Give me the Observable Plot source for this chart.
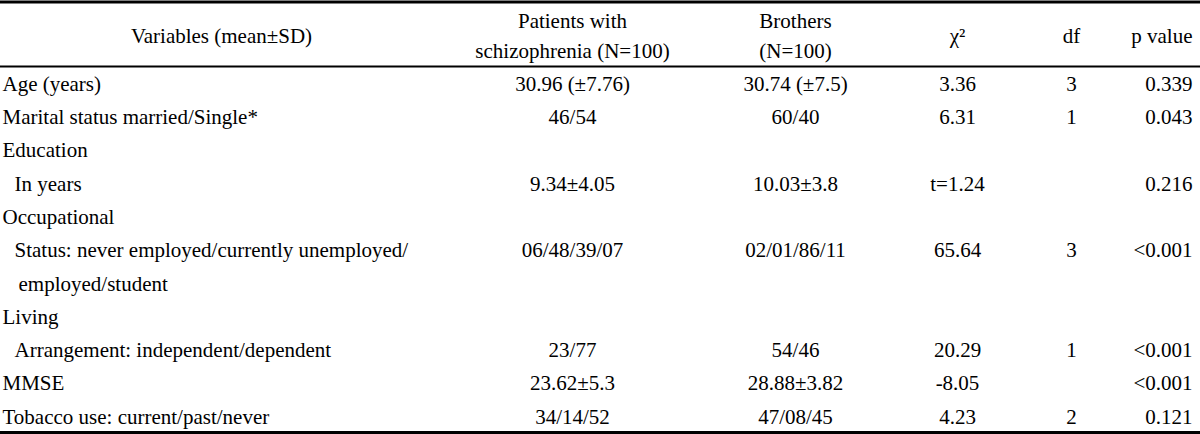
<!DOCTYPE html>
<html>
<head>
<meta charset="utf-8">
<script src="https://cdn.jsdelivr.net/npm/d3@7"></script>
<script src="https://cdn.jsdelivr.net/npm/@observablehq/plot@0.6"></script>
<style>
  html, body { margin: 0; padding: 0; background: #fff; }
  #chart svg { display: block; }
</style>
</head>
<body>
<div id="chart"></div>
<script>
// ---- data ----
const headers = [
  "Variables (mean\u00B1SD)",
  "Patients with\nschizophrenia (N=100)",
  "Brothers\n(N=100)",
  "\u03C7\u00B2",
  "df",
  "p value"
];
const variables = [
  "Age (years)",
  "Marital status married/Single*",
  "Education",
  "In years",
  "Occupational",
  "Status: never employed/currently unemployed/",
  "employed/student",
  "Living",
  "Arrangement: independent/dependent",
  "MMSE",
  "Tobacco use: current/past/never"
];
const indentLevel = [0, 0, 0, 1, 0, 1, 2, 0, 1, 0, 0];
const patients = ["30.96 (\u00B17.76)", "46/54", "", "9.34\u00B14.05", "", "06/48/39/07", "", "", "23/77", "23.62\u00B15.3", "34/14/52"];
const brothers = ["30.74 (\u00B17.5)", "60/40", "", "10.03\u00B13.8", "", "02/01/86/11", "", "", "54/46", "28.88\u00B13.82", "47/08/45"];
const chi2 = ["3.36", "6.31", "", "t=1.24", "", "65.64", "", "", "20.29", "-8.05", "4.23"];
const dfs = ["3", "1", "", "", "", "3", "", "", "1", "", "2"];
const pValues = ["0.339", "0.043", "", "0.216", "", "<0.001", "", "", "<0.001", "<0.001", "0.121"];

// ---- layout (table geometry in chart units) ----
const W = 1200, H = 434;
const headerBottom = 66, tableBottom = 432, rowPitch = (tableBottom - headerBottom) / variables.length;
const indentX = [2, 14, 18];
const columns = [
  {values: null,     x: 2,    anchor: "start",  headerX: 221, headerAnchor: "middle"},
  {values: patients, x: 572,  anchor: "middle", headerX: 572, headerAnchor: "middle"},
  {values: brothers, x: 795,  anchor: "middle", headerX: 795, headerAnchor: "middle"},
  {values: chi2,     x: 957,  anchor: "middle", headerX: 957, headerAnchor: "middle"},
  {values: dfs,      x: 1071, anchor: "middle", headerX: 1071, headerAnchor: "middle"},
  {values: pValues,  x: 1192, anchor: "end",    headerX: 1192, headerAnchor: "end"}
];

const rowY = i => headerBottom + rowPitch * (i + 0.5) + 1;

// Build cell tables
const headerCells = headers.map((h, j) => ({text: h, x: columns[j].headerX, y: 33, anchor: columns[j].headerAnchor}));
const bodyCells = [];
variables.forEach((v, i) => {
  bodyCells.push({text: v, x: indentX[indentLevel[i]], y: rowY(i), anchor: "start"});
  for (let j = 1; j < columns.length; j++) {
    const t = columns[j].values[i];
    if (t) bodyCells.push({text: t, x: columns[j].x, y: rowY(i), anchor: columns[j].anchor});
  }
});

const FS = 21;
const textMarks = ["start", "middle", "end"].flatMap(a => [
  Plot.text(headerCells.filter(d => d.anchor === a), {x: "x", y: "y", text: "text", textAnchor: a, lineHeight: 30 / FS, fontSize: FS, fill: "#000"}),
  Plot.text(bodyCells.filter(d => d.anchor === a), {x: "x", y: "y", text: "text", textAnchor: a, fontSize: FS, fill: "#000"})
]);

const chart = Plot.plot({
  width: W,
  height: H,
  margin: 0,
  x: {domain: [0, W], range: [0, W], axis: null},
  y: {domain: [0, H], range: [0, H], axis: null},
  style: {fontFamily: "'Liberation Serif', 'Times New Roman', serif", fontSize: FS + "px", background: "#fff", color: "#000"},
  marks: [
    Plot.ruleY([1.5], {stroke: "#000", strokeWidth: 3}),
    Plot.ruleY([headerBottom], {stroke: "#000", strokeWidth: 2}),
    Plot.ruleY([tableBottom], {stroke: "#000", strokeWidth: 3}),
    ...textMarks
  ]
});
document.getElementById("chart").appendChild(chart);
</script>
</body>
</html>
